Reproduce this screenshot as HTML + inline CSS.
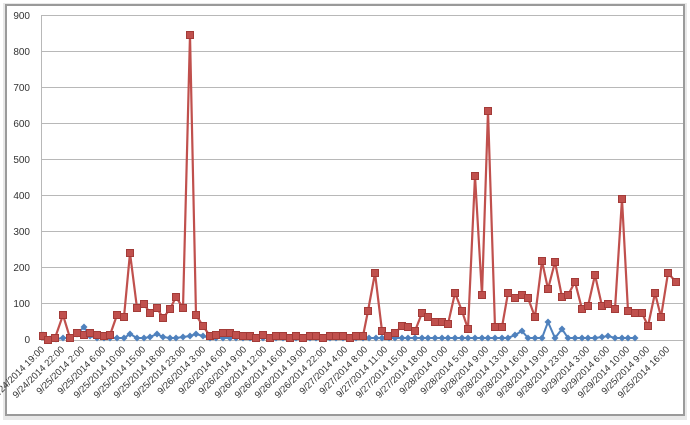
<!DOCTYPE html>
<html><head><meta charset="utf-8"><style>
html,body{margin:0;padding:0;background:#fff;width:690px;height:425px;overflow:hidden}
svg{display:block;font-family:"Liberation Sans",sans-serif}
</style></head><body>
<svg width="690" height="425" viewBox="0 0 690 425" xmlns="http://www.w3.org/2000/svg">
<defs>
<marker id="sq" markerWidth="8" markerHeight="8" refX="4" refY="4" markerUnits="userSpaceOnUse"><rect x="0.5" y="0.5" width="7" height="7" fill="#c0504d" stroke="#a33b38" stroke-width="1"/></marker>
<marker id="dm" markerWidth="8" markerHeight="8" refX="4" refY="4" markerUnits="userSpaceOnUse"><path d="M4 0.5L7.5 4L4 7.5L0.5 4Z" fill="#4f81bd"/></marker>
</defs>
<rect x="3" y="3" width="684" height="417" fill="#e8e8e8"/>
<rect x="6" y="5" width="678" height="410" fill="#fff" stroke="#9a9a9a" stroke-width="2"/>
<g stroke="#b8b8b8" stroke-width="1">
<line x1="41" y1="15.5" x2="683" y2="15.5"/><line x1="41" y1="51.5" x2="683" y2="51.5"/><line x1="41" y1="87.5" x2="683" y2="87.5"/><line x1="41" y1="123.5" x2="683" y2="123.5"/><line x1="41" y1="159.5" x2="683" y2="159.5"/><line x1="41" y1="195.5" x2="683" y2="195.5"/><line x1="41" y1="231.5" x2="683" y2="231.5"/><line x1="41" y1="267.5" x2="683" y2="267.5"/><line x1="41" y1="303.5" x2="683" y2="303.5"/>
<line x1="41.5" y1="15" x2="41.5" y2="340"/><line x1="41" y1="340.5" x2="683" y2="340.5"/>
</g>
<g font-size="10" fill="#333" text-anchor="end">
<text x="30" y="19">900</text><text x="30" y="55">800</text><text x="30" y="91">700</text><text x="30" y="127">600</text><text x="30" y="163">500</text><text x="30" y="199">400</text><text x="30" y="235">300</text><text x="30" y="271">200</text><text x="30" y="307">100</text><text x="30" y="343">0</text>
</g>
<polyline fill="none" stroke="#4f81bd" stroke-width="2" marker-start="url(#dm)" marker-mid="url(#dm)" marker-end="url(#dm)" points="43,335 50,339 56,339 63,338 70,338 77,334 84,327 90,336 97,338 104,338 110,338 117,338 124,338 130,334 137,338 144,338 150,337 157,334 163,337 170,338 176,338 183,337 190,336 196,334 203,336 210,338 216,338 223,338 230,338 236,338 243,338 250,338 256,338 263,338 270,338 276,338 283,338 290,338 296,338 303,338 310,338 316,338 323,338 330,338 336,338 343,338 350,338 356,338 363,338 369,338 376,338 382,338 389,338 395,338 402,338 408,338 415,338 422,338 428,338 435,338 442,338 448,338 455,338 462,338 468,338 475,338 482,338 488,338 495,338 502,338 508,338 515,335 522,331 528,338 535,338 542,338 548,322 555,338 562,329 568,338 575,338 582,338 588,338 595,338 602,337 608,336 615,338 622,338 628,338 635,338"/>
<polyline fill="none" stroke="#c0504d" stroke-width="2.2" marker-start="url(#sq)" marker-mid="url(#sq)" marker-end="url(#sq)" points="43,336 48,340 55,338 63,315 70,338 77,333 84,335 90,333 97,335 104,336 110,335 117,315 124,317 130,253 137,308 144,304 150,313 157,308 163,318 170,309 176,297 183,308 190,35 196,315 203,326 210,336 216,335 223,333 230,333 236,335 243,336 250,336 256,338 263,335 270,338 276,336 283,336 290,338 296,336 303,338 310,336 316,336 323,338 330,336 336,336 343,336 350,338 356,336 363,336 368,311 375,273 382,331 388,336 395,333 402,326 408,327 415,331 422,313 428,317 435,322 442,322 448,324 455,293 462,311 468,329 475,176 482,295 488,111 495,327 502,327 508,293 515,298 522,295 528,298 535,317 542,261 548,289 555,262 562,297 568,295 575,282 582,309 588,306 595,275 602,306 608,304 615,309 622,199 628,311 635,313 642,313 648,326 655,293 661,317 668,273 676,282"/>
<g font-size="9.5" fill="#333" text-anchor="end">
<text transform="translate(45,350) rotate(-45)">9/24/2014 19:00</text>
<text transform="translate(65,350) rotate(-45)">9/24/2014 22:00</text>
<text transform="translate(85,350) rotate(-45)">9/25/2014 2:00</text>
<text transform="translate(106,350) rotate(-45)">9/25/2014 6:00</text>
<text transform="translate(126,350) rotate(-45)">9/25/2014 10:00</text>
<text transform="translate(146,350) rotate(-45)">9/25/2014 15:00</text>
<text transform="translate(166,350) rotate(-45)">9/25/2014 18:00</text>
<text transform="translate(186,350) rotate(-45)">9/25/2014 23:00</text>
<text transform="translate(206,350) rotate(-45)">9/26/2014 3:00</text>
<text transform="translate(227,350) rotate(-45)">9/26/2014 6:00</text>
<text transform="translate(247,350) rotate(-45)">9/26/2014 9:00</text>
<text transform="translate(267,350) rotate(-45)">9/26/2014 12:00</text>
<text transform="translate(287,350) rotate(-45)">9/26/2014 16:00</text>
<text transform="translate(307,350) rotate(-45)">9/26/2014 19:00</text>
<text transform="translate(327,350) rotate(-45)">9/26/2014 22:00</text>
<text transform="translate(348,350) rotate(-45)">9/27/2014 4:00</text>
<text transform="translate(368,350) rotate(-45)">9/27/2014 8:00</text>
<text transform="translate(388,350) rotate(-45)">9/27/2014 11:00</text>
<text transform="translate(408,350) rotate(-45)">9/27/2014 15:00</text>
<text transform="translate(428,350) rotate(-45)">9/27/2014 18:00</text>
<text transform="translate(448,350) rotate(-45)">9/28/2014 0:00</text>
<text transform="translate(469,350) rotate(-45)">9/28/2014 5:00</text>
<text transform="translate(489,350) rotate(-45)">9/28/2014 9:00</text>
<text transform="translate(509,350) rotate(-45)">9/28/2014 13:00</text>
<text transform="translate(529,350) rotate(-45)">9/28/2014 16:00</text>
<text transform="translate(549,350) rotate(-45)">9/28/2014 19:00</text>
<text transform="translate(569,350) rotate(-45)">9/28/2014 23:00</text>
<text transform="translate(590,350) rotate(-45)">9/29/2014 3:00</text>
<text transform="translate(610,350) rotate(-45)">9/29/2014 6:00</text>
<text transform="translate(630,350) rotate(-45)">9/29/2014 10:00</text>
<text transform="translate(650,350) rotate(-45)">9/25/2014 9:00</text>
<text transform="translate(670,350) rotate(-45)">9/25/2014 16:00</text>
</g>
</svg>
</body></html>
